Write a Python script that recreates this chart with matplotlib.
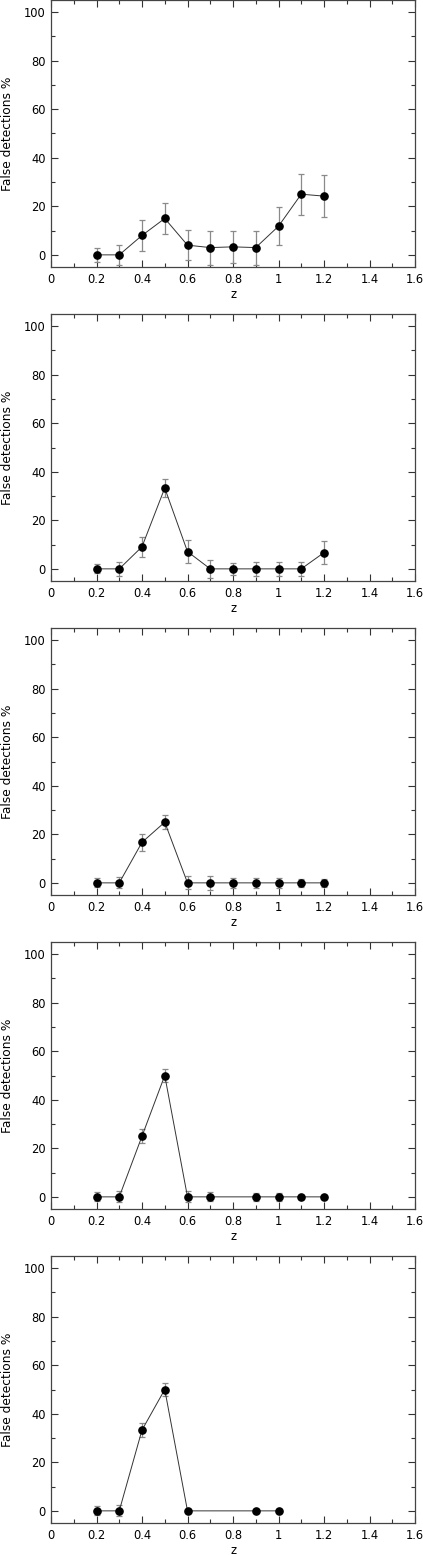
import numpy as np
import matplotlib
matplotlib.use('Agg')
import matplotlib.pyplot as plt
from matplotlib.ticker import MultipleLocator

# redshift bins per panel and false detection fraction (%) with errors
z1 = [0.2, 0.3, 0.4, 0.5, 0.6, 0.7, 0.8, 0.9, 1.0, 1.1, 1.2]
f1 = [0, 0, 8, 15, 4, 3, 3.3, 3, 11.8, 25, 24.2]
e1 = [3, 4, 6.3, 6.3, 6.1, 7, 6.6, 7, 7.9, 8.4, 8.6]

z2 = [0.2, 0.3, 0.4, 0.5, 0.6, 0.7, 0.8, 0.9, 1.0, 1.1, 1.2]
f2 = [0, 0, 9.1, 33.3, 7.1, 0, 0, 0, 0, 0, 6.7]
e2 = [1.8, 3, 4.2, 3.7, 4.7, 3.6, 2.4, 2.8, 2.8, 3, 4.7]

z3 = [0.2, 0.3, 0.4, 0.5, 0.6, 0.7, 0.8, 0.9, 1.0, 1.1, 1.2]
f3 = [0, 0, 16.7, 25, 0, 0, 0, 0, 0, 0, 0]
e3 = [1.8, 2.3, 3.4, 2.9, 2.7, 3, 2.1, 2.1, 2.1, 1.6, 1.6]

z4 = [0.2, 0.3, 0.4, 0.5, 0.6, 0.7, 0.9, 1.0, 1.1, 1.2]
f4 = [0, 0, 25, 50, 0, 0, 0, 0, 0, 0]
e4 = [1.8, 2.3, 2.9, 2.6, 2.3, 1.8, 1.6, 1.6, 0.8, 0.6]

z5 = [0.2, 0.3, 0.4, 0.5, 0.6, 0.9, 1.0]
f5 = [0, 0, 33.3, 50, 0, 0, 0]
e5 = [1.8, 2.3, 2.8, 2.6, 0.5, 0.6, 0.6]

panels = [(z1, f1, e1), (z2, f2, e2), (z3, f3, e3), (z4, f4, e4), (z5, f5, e5)]

W, H = 423, 1555
fig = plt.figure(figsize=(W / 100, H / 100), dpi=100)
plt.rcParams['font.family'] = 'DejaVu Sans'

left, width = 51 / W, 364 / W
ax_h = 267
for i, (z, f, e) in enumerate(panels):
    top = i * 314
    ax = fig.add_axes([left, 1 - (top + ax_h) / H, width, ax_h / H])
    ax.errorbar(z, f, yerr=e, fmt='none', ecolor='#8a8a8a', elinewidth=0.9,
                capsize=2.5, capthick=0.9)
    ax.plot(z, f, color='#333333', lw=0.7)
    ax.plot(z, f, 'o', color='black', ms=5.2)
    ax.set_xlim(0, 1.6)
    ax.set_ylim(-5, 105)
    ax.xaxis.set_major_locator(MultipleLocator(0.2))
    ax.xaxis.set_minor_locator(MultipleLocator(0.1))
    ax.yaxis.set_major_locator(MultipleLocator(20))
    ax.yaxis.set_minor_locator(MultipleLocator(10))
    ax.xaxis.set_major_formatter(plt.FuncFormatter(lambda v, p: f'{v:g}'))
    ax.tick_params(which='both', direction='in', top=True, right=True,
                   labelsize=8.3, color='#333333', width=0.8, pad=4)
    ax.tick_params(which='major', length=5)
    ax.tick_params(which='minor', length=3)
    for s in ax.spines.values():
        s.set_linewidth(0.9)
        s.set_color('#444444')
    ax.set_xlabel('z', fontsize=8.3, labelpad=2)
    ax.set_ylabel('False detections %', fontsize=8.8, labelpad=7)

fig.savefig('out.png', dpi=100)
